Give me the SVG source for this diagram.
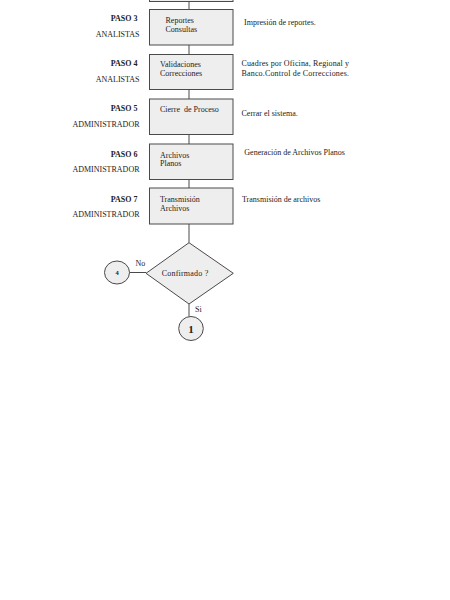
<svg xmlns="http://www.w3.org/2000/svg" width="450" height="600" viewBox="0 0 450 600">
<style>
.box{fill:#eeeeee;stroke:#4a4a4a;stroke-width:1}
.ln{stroke:#4a4a4a;stroke-width:1;fill:none}
text{font-family:"Liberation Serif","Times New Roman",serif;font-size:8px;fill:#222}
.paso{font-weight:bold;text-anchor:end}
.role{text-anchor:end}
</style>
<rect width="450" height="600" fill="#ffffff"/>
<g id="connectors">
<line class="ln" x1="189" y1="1.5" x2="189" y2="9.5"/>
<line class="ln" x1="189" y1="45" x2="189" y2="54.5"/>
<line class="ln" x1="189" y1="89.5" x2="189" y2="99"/>
<line class="ln" x1="189" y1="134.5" x2="189" y2="144"/>
<line class="ln" x1="189" y1="179.5" x2="189" y2="188"/>
<line class="ln" x1="189" y1="224" x2="189" y2="242.7"/>
<line class="ln" x1="189" y1="304" x2="189" y2="316.5"/>
<line class="ln" x1="129.5" y1="272.5" x2="146" y2="272.5"/>
</g>
<g id="step0">
<rect class="box" x="149.5" y="-30" width="83.5" height="31.5"/>
</g>
<g id="step3">
<rect class="box" x="149.5" y="9.5" width="83.5" height="35.5"/>
<text x="165.5" y="22.5">Reportes</text>
<text x="165.5" y="31.7">Consultas</text>
<text class="paso" x="137.5" y="20.5">PASO 3</text>
<text class="role" x="139.5" y="36.5">ANALISTAS</text>
<text x="244" y="25">Impresión de reportes.</text>
</g>
<g id="step4">
<rect class="box" x="149.5" y="54.5" width="83.5" height="35"/>
<text x="160" y="67">Validaciones</text>
<text x="160" y="76">Correcciones</text>
<text class="paso" x="137.5" y="66">PASO 4</text>
<text class="role" x="139.5" y="81.5">ANALISTAS</text>
<text x="241.5" y="65.5" textLength="107.5" lengthAdjust="spacing">Cuadres por Oficina,  Regional y</text>
<text x="241.5" y="75.5" textLength="107.5" lengthAdjust="spacing">Banco.Control de Correcciones.</text>
</g>
<g id="step5">
<rect class="box" x="149.5" y="99" width="83.5" height="35.5"/>
<text x="160" y="111.5" xml:space="preserve">Cierre  de Proceso</text>
<text class="paso" x="137.5" y="111">PASO 5</text>
<text class="role" x="139.5" y="126.5">ADMINISTRADOR</text>
<text x="241.5" y="116">Cerrar el sistema.</text>
</g>
<g id="step6">
<rect class="box" x="149.5" y="144" width="83.5" height="35.5"/>
<text x="160" y="157.5">Archivos</text>
<text x="160" y="166">Planos</text>
<text class="paso" x="137.5" y="156.5">PASO 6</text>
<text class="role" x="139.5" y="171.5">ADMINISTRADOR</text>
<text x="244.3" y="155">Generación de Archivos Planos</text>
</g>
<g id="step7">
<rect class="box" x="149.5" y="188" width="83.5" height="36"/>
<text x="160" y="201.5">Transmisión</text>
<text x="160" y="210.5">Archivos</text>
<text class="paso" x="137.5" y="201.5">PASO 7</text>
<text class="role" x="139.5" y="216.5">ADMINISTRADOR</text>
<text x="242" y="201.5">Transmisión de archivos</text>
</g>
<g id="decision">
<polygon class="box" points="189,242.7 233.3,273.3 189,304 146,273.3"/>
<text x="161.7" y="276" textLength="46.5" lengthAdjust="spacing">Confirmado ?</text>
<text x="135.5" y="266">No</text>
<text x="195" y="312">Si</text>
</g>
<g id="connector4">
<ellipse class="box" cx="117" cy="272.5" rx="12.5" ry="11.5"/>
<text x="117" y="274.8" text-anchor="middle" style="font-size:6.5px;font-weight:bold">4</text>
</g>
<g id="connector1">
<ellipse class="box" cx="191" cy="328.5" rx="12.3" ry="12"/>
<text x="191" y="332.5" text-anchor="middle" style="font-size:11px;font-weight:bold">1</text>
</g>
</svg>
